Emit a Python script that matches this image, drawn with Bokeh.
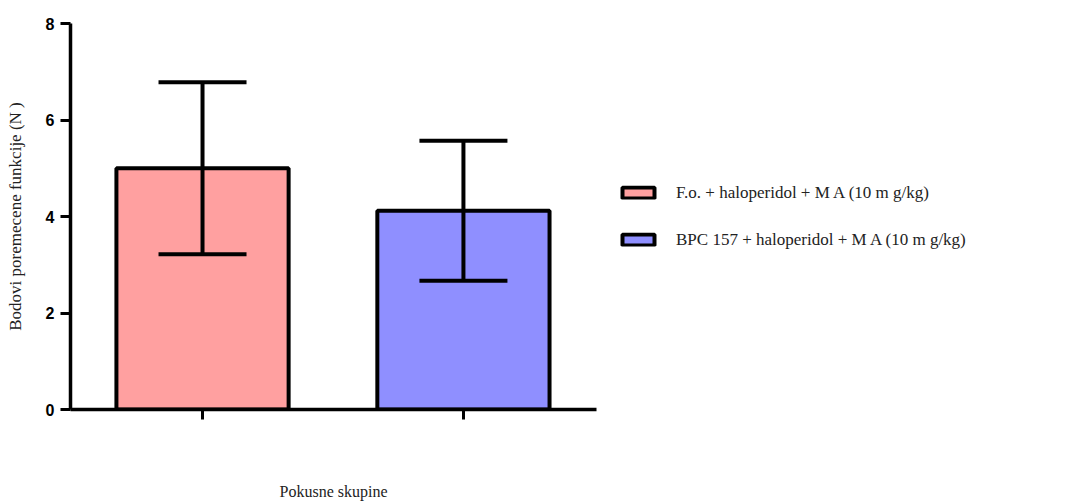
from bokeh.plotting import figure
from bokeh.models import (ColumnDataSource, Range1d, FixedTicker, Whisker, TeeHead,
                          Legend, LegendItem)
from bokeh.embed import file_html
from bokeh.resources import INLINE

# Data
groups = ["F.o. + haloperidol + M A (10 m g/kg)", "BPC 157 + haloperidol + M A (10 m g/kg)"]
positions = [1, 2]
means = [5.0, 4.12]
sds = [1.78, 1.45]
colors = ["#FFA0A0", "#8F8FFF"]
y_ticks = [0, 2, 4, 6, 8]

lower = [m - s for m, s in zip(means, sds)]
upper = [m + s for m, s in zip(means, sds)]
src = ColumnDataSource(dict(x=positions, top=means, lower=lower, upper=upper,
                            color=colors, label=groups))

p = figure(width=1075, height=485, output_backend="svg", toolbar_location=None,
           x_range=Range1d(0.494, 2.51), y_range=Range1d(0, 8),
           frame_width=526, frame_height=386,
           min_border_left=70, min_border_top=23, min_border_bottom=85)
p.outline_line_color = None
p.xgrid.visible = False
p.ygrid.visible = False
p.background_fill_color = "white"
p.border_fill_color = "white"

bars = []
for i in range(len(positions)):
    r = p.vbar(x=[positions[i]], top=[means[i]], bottom=0, width=0.66,
               fill_color=colors[i], line_color="black", line_width=4)
    bars.append(r)

w = Whisker(source=src, base="x", upper="upper", lower="lower",
            line_width=4, line_color="black", level="overlay",
            upper_head=TeeHead(size=88, line_width=4, line_color="black"),
            lower_head=TeeHead(size=88, line_width=4, line_color="black"))
p.add_layout(w)

# Y axis
p.yaxis.ticker = FixedTicker(ticks=y_ticks)
p.yaxis.minor_tick_line_color = None
p.yaxis.major_tick_in = 0
p.yaxis.major_tick_out = 10
p.yaxis.major_tick_line_width = 3
p.yaxis.axis_line_width = 3.5
p.yaxis.major_label_text_font = "Liberation Sans"
p.yaxis.major_label_text_font_style = "bold"
p.yaxis.major_label_text_font_size = "16px"
p.yaxis.major_label_text_color = "black"
p.yaxis.major_label_standoff = 6
p.yaxis.axis_label = "Bodovi poremecene funkcije (N )"
p.yaxis.axis_label_text_font = "Liberation Serif"
p.yaxis.axis_label_text_font_style = "normal"
p.yaxis.axis_label_text_font_size = "17px"
p.yaxis.axis_label_text_color = "#222222"
p.yaxis.axis_label_standoff = 18

# X axis
p.xaxis.ticker = FixedTicker(ticks=positions)
p.xaxis.major_label_overrides = {1: "", 2: ""}
p.xaxis.minor_tick_line_color = None
p.xaxis.major_tick_in = 0
p.xaxis.major_tick_out = 10
p.xaxis.major_tick_line_width = 3
p.xaxis.axis_line_width = 3.5
p.xaxis.axis_label = "Pokusne skupine"
p.xaxis.axis_label_text_font = "Liberation Serif"
p.xaxis.axis_label_text_font_style = "normal"
p.xaxis.axis_label_text_font_size = "16px"
p.xaxis.axis_label_text_color = "#222222"
p.xaxis.axis_label_standoff = 63

legend = Legend(items=[LegendItem(label=groups[i], renderers=[bars[i]]) for i in range(2)],
                location="center_left", orientation="vertical",
                glyph_width=40, glyph_height=14, label_height=20,
                spacing=27, padding=0, margin=22, label_standoff=18,
                border_line_color=None, background_fill_alpha=0,
                label_text_font="Liberation Serif", label_text_font_size="17px",
                label_text_color="#222222")
p.add_layout(legend, "right")

open("out.html", "w").write(file_html(p, INLINE))
